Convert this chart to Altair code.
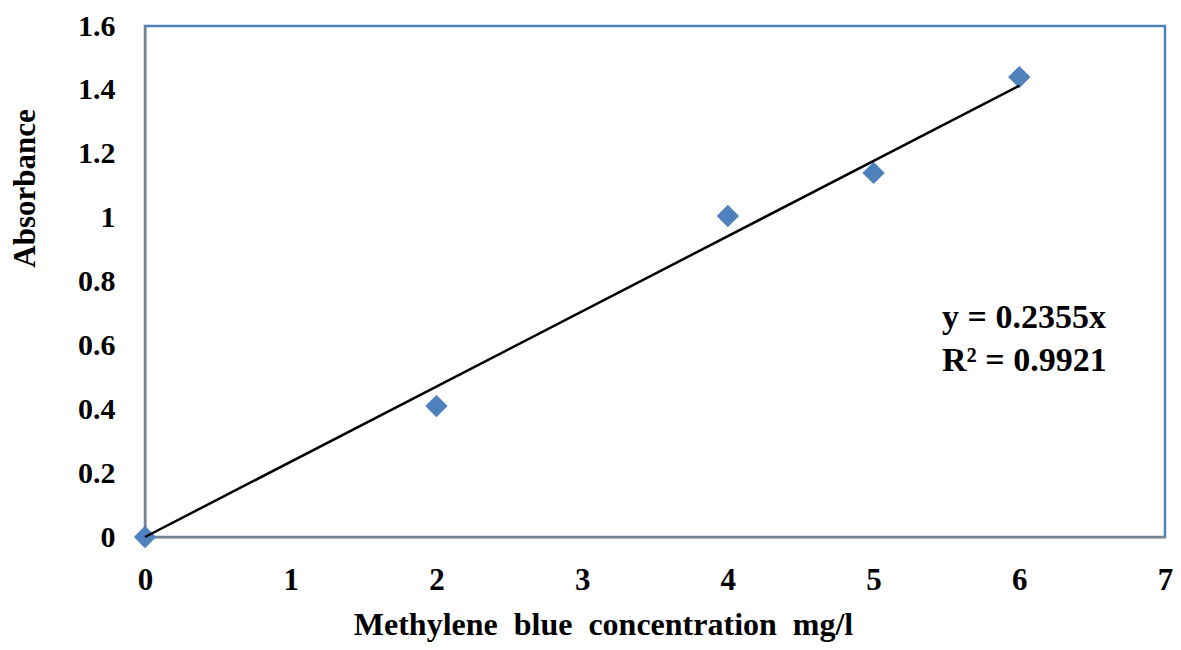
import altair as alt
import pandas as pd

conc = [0, 2, 4, 5, 6]
absorb = [0.0, 0.41, 1.005, 1.14, 1.44]

trend_x = [0, 6]
trend_y = [0.0, 1.413]

ann_x = [5.47, 5.47]
ann_y = [0.654, 0.520]
ann_text = ["y = 0.2355x", "R² = 0.9921"]

x_ticks = [0, 1, 2, 3, 4, 5, 6, 7]
y_ticks = [0, 0.2, 0.4, 0.6, 0.8, 1.0, 1.2, 1.4, 1.6]

pts = pd.DataFrame({"x": conc, "y": absorb})
trend = pd.DataFrame({"x": trend_x, "y": trend_y})
ann = pd.DataFrame({"x": ann_x, "y": ann_y, "t": ann_text})

FONT = "Liberation Serif"
NB = "\u00a0"

xscale = alt.Scale(domain=[0, 7], nice=False, zero=False)
yscale = alt.Scale(domain=[0, 1.6], nice=False, zero=False)

xaxis = alt.Axis(
    values=x_ticks, grid=False, ticks=False, format="~g", labelFlush=False,
    labelFont=FONT, labelFontSize=31, labelFontWeight="bold", labelColor="black",
    labelPadding=28,
    domainColor="#868686", domainWidth=2,
    title=f"Methylene{NB}{NB}blue{NB}{NB}concentration{NB}{NB}mg/l",
    titleFont=FONT, titleFontSize=32, titleFontWeight="bold", titleColor="black",
    titleX=458, titleY=97, titleAlign="center", titleBaseline="alphabetic",
)
yaxis = alt.Axis(
    values=y_ticks, grid=False, ticks=False, format="~g", labelFlush=False,
    labelFont=FONT, labelFontSize=30, labelFontWeight="bold", labelColor="black",
    labelPadding=30, labelBaseline="middle",
    domainColor="#868686", domainWidth=2,
    title="Absorbance",
    titleFont=FONT, titleFontSize=31, titleFontWeight="bold", titleColor="black",
    titleX=-111, titleY=162, titleAlign="center", titleBaseline="alphabetic", titleAngle=-90,
)

line = alt.Chart(trend).mark_line(color="black", strokeWidth=2.5).encode(
    x=alt.X("x:Q", scale=xscale, axis=xaxis),
    y=alt.Y("y:Q", scale=yscale, axis=yaxis),
)

points = alt.Chart(pts).mark_point(
    shape="diamond", filled=True, color="#4F81BD", size=500, opacity=1
).encode(
    x=alt.X("x:Q", scale=xscale),
    y=alt.Y("y:Q", scale=yscale),
)

text = alt.Chart(ann).mark_text(
    font=FONT, fontSize=34, fontWeight="bold", color="black", align="left", baseline="alphabetic"
).encode(
    x=alt.X("x:Q", scale=xscale),
    y=alt.Y("y:Q", scale=yscale),
    text="t:N",
)

chart = alt.layer(points, line, text).properties(
    width=1020, height=511,
    padding={"left": 137, "top": 18, "right": 8, "bottom": 105},
    autosize="none",
    background="white",
).configure_view(stroke="#4F81BD", strokeWidth=2.5)

chart.save("out.html", embed_options={"renderer": "svg", "actions": False})
